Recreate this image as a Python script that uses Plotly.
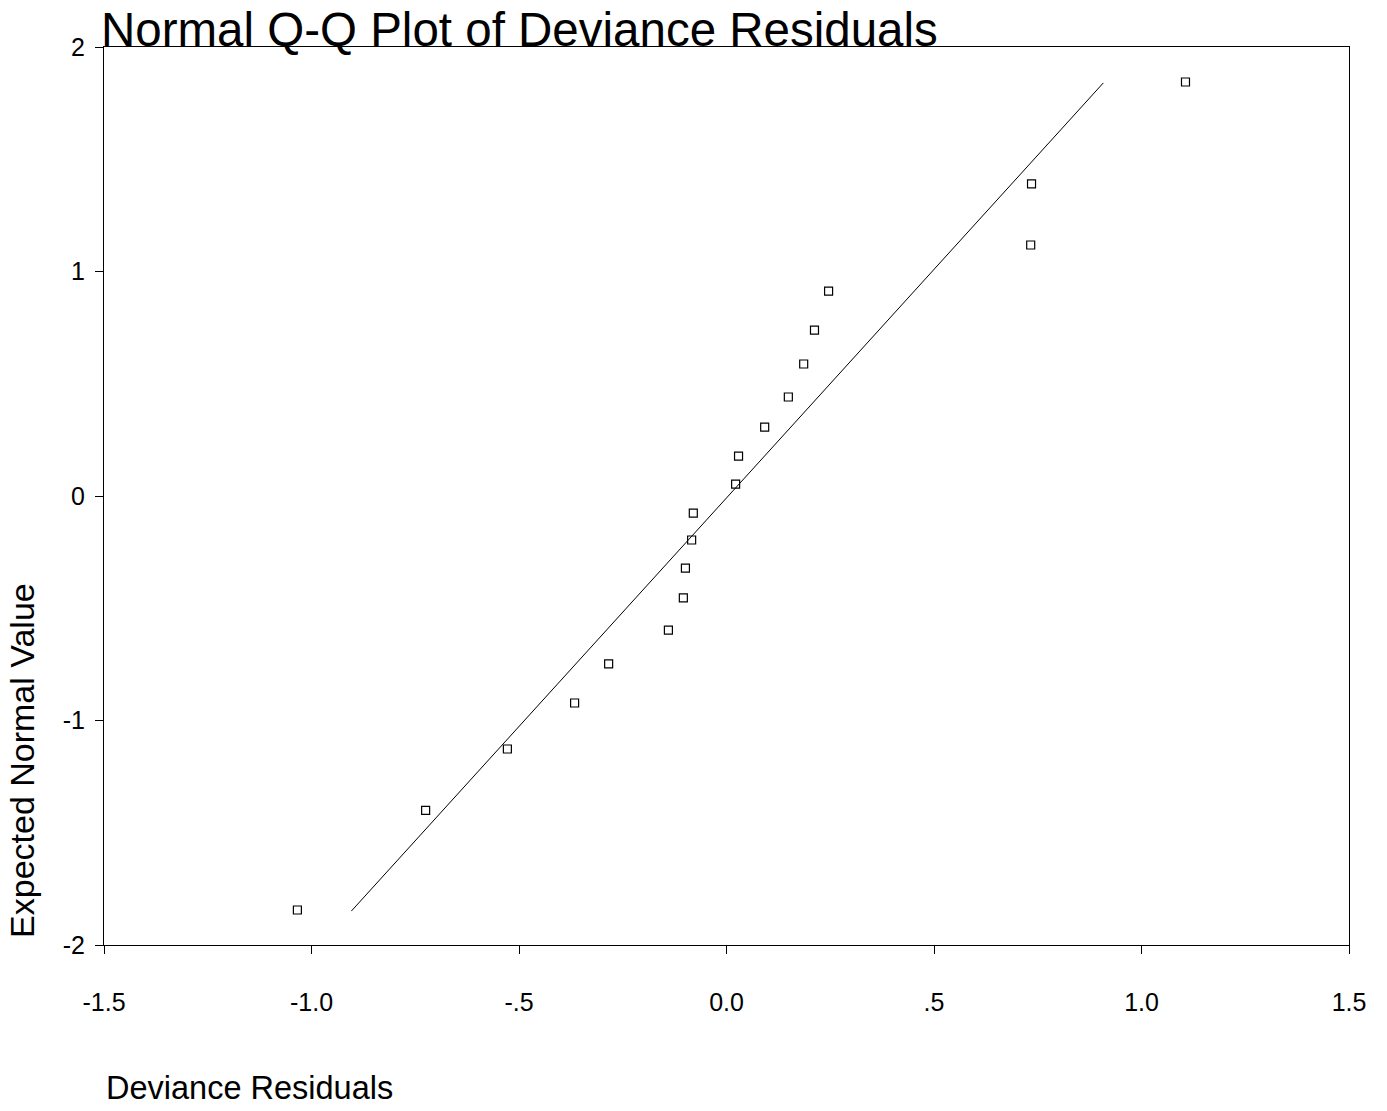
import plotly.graph_objects as go

# Data
residuals = [-1.034, -0.725, -0.528, -0.366, -0.284, -0.140, -0.104, -0.099, -0.084, -0.080,
             0.022, 0.029, 0.092, 0.149, 0.186, 0.212, 0.246, 0.733, 0.735, 1.106]
expected = [-1.844, -1.400, -1.127, -0.922, -0.748, -0.597, -0.454, -0.321, -0.196, -0.076,
            0.053, 0.178, 0.307, 0.441, 0.588, 0.739, 0.913, 1.118, 1.390, 1.844]
line_x = [-0.904, 0.908]
line_y = [-1.849, 1.840]

x_tickvals = [-1.5, -1.0, -0.5, 0.0, 0.5, 1.0, 1.5]
x_ticktext = ["-1.5", "-1.0", "-.5", "0.0", ".5", "1.0", "1.5"]
y_tickvals = [-2, -1, 0, 1, 2]
y_ticktext = ["-2", "-1", "0", "1", "2"]

FONT = "Liberation Sans, Arial, sans-serif"

fig = go.Figure()
fig.add_trace(go.Scatter(x=line_x, y=line_y, mode="lines",
                         line=dict(color="black", width=1), hoverinfo="skip"))
fig.add_trace(go.Scatter(x=residuals, y=expected, mode="markers",
                         marker=dict(symbol="square-open", size=8, color="black",
                                     line=dict(width=1.2, color="black"))))

fig.update_layout(
    width=1387, height=1111,
    margin=dict(l=104, r=38, t=47, b=166),
    paper_bgcolor="white", plot_bgcolor="white",
    showlegend=False,
    font=dict(family=FONT, color="black"),
)
fig.update_xaxes(range=[-1.5, 1.5], tickvals=x_tickvals, ticktext=x_ticktext,
                 showgrid=False, zeroline=False, showline=True, linecolor="black",
                 linewidth=1, mirror=True, ticks="outside", ticklen=8, tickcolor="black",
                 tickfont=dict(size=25, family=FONT), ticklabelstandoff=27)
fig.update_yaxes(range=[-2, 2], tickvals=y_tickvals, ticktext=y_ticktext,
                 showgrid=False, zeroline=False, showline=True, linecolor="black",
                 linewidth=1, mirror=True, ticks="outside", ticklen=8, tickcolor="black",
                 tickfont=dict(size=25, family=FONT), ticklabelstandoff=5)

fig.add_annotation(text="Normal Q-Q Plot of Deviance Residuals", xref="paper", yref="paper",
                   x=-0.004, y=1, xanchor="left", yanchor="bottom", yshift=-11,
                   showarrow=False, font=dict(size=47.5, family=FONT))
fig.add_annotation(text="Deviance Residuals", xref="paper", yref="paper",
                   x=0.0, y=-0.159, xanchor="left", yanchor="middle",
                   showarrow=False, font=dict(size=32.5, family=FONT))
fig.add_annotation(text="Expected Normal Value", xref="paper", yref="paper",
                   x=-0.066, y=0.006, xanchor="center", yanchor="bottom", textangle=-90,
                   showarrow=False, font=dict(size=34, family=FONT))

fig.write_html("out.html")
